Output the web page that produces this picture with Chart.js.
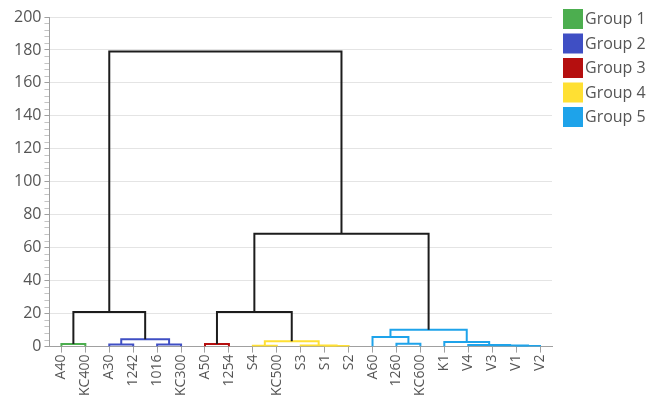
<!DOCTYPE html>
<html>
<head>
<meta charset="utf-8">
<script src="https://cdn.jsdelivr.net/npm/chart.js@4/dist/chart.umd.min.js"></script>
<style>
  html, body { margin: 0; padding: 0; background: #fff; }
  #wrap { width: 660px; height: 406px; }
</style>
</head>
<body>
<div id="wrap"><canvas id="c" width="660" height="406"></canvas></div>
<script>
// Leaf order along the x axis
const leaves = ['A40','KC400','A30','1242','1016','KC300','A50','1254','S4','KC500',
                'S3','S1','S2','A60','1260','KC600','K1','V4','V3','V1','V2'];

// Group names and colours (index -1 = link between groups, drawn in black)
const groupNames  = ['Group 1','Group 2','Group 3','Group 4','Group 5'];
const groupColors = ['#4cae4f','#3f4fc4','#b50f0f','#ffe033','#1ea3ea'];
const linkColor = '#1c1c1c';

// Linkage: node ids 0..20 are leaves, each row creates node 21, 22, ...
const mergeLeft   = [0, 2, 4, 22, 21, 6, 8, 11, 10, 27, 26, 14, 13, 19, 18, 17, 16, 33, 31, 25];
const mergeRight  = [1, 3, 5, 23, 24, 7, 9, 12, 28, 29, 30, 15, 32, 20, 34, 35, 36, 37, 38, 39];
const mergeHeight = [1.5, 1.2, 1.2, 4.5, 21, 1.5, 0.5, 0.3, 0.7, 3.2, 21, 1.7, 5.8, 0.3, 0.6, 1.0, 2.8, 10.2, 68.5, 179];
const mergeGroup  = [0, 1, 1, 1, -1, 2, 3, 3, 3, 3, -1, 4, 4, 4, 4, 4, 4, 4, -1, -1];

// Y axis ticks
const yMajorStep = 20;
const yMinorStep = 4;
const yMax = 200;

// Node positions: leaves sit at their index, merges at the mean of their children
const nodeX = leaves.map((_, i) => i);
const nodeY = leaves.map(() => 0);
const datasets = [];
mergeLeft.forEach((l, k) => {
  const r = mergeRight[k];
  const h = mergeHeight[k];
  nodeX.push((nodeX[l] + nodeX[r]) / 2);
  nodeY.push(h);
  const g = mergeGroup[k];
  datasets.push({
    data: [
      {x: nodeX[l], y: nodeY[l]},
      {x: nodeX[l], y: h},
      {x: nodeX[r], y: h},
      {x: nodeX[r], y: nodeY[r]}
    ],
    borderColor: g < 0 ? linkColor : groupColors[g],
    borderWidth: 2,
    showLine: true,
    fill: false,
    tension: 0,
    pointRadius: 0,
    pointHoverRadius: 0,
    order: g < 0 ? 0 : 1
  });
});

const axisGray = '#a0a0a0';
const textGray = '#555555';
const fontFamily = "'Open Sans', 'Noto Sans', sans-serif";

// Group legend in the right margin: colour swatch + name
const groupLegend = {
  id: 'groupLegend',
  afterDraw(chart) {
    const ctx = chart.ctx;
    ctx.save();
    ctx.font = `16px ${fontFamily}`;
    ctx.textBaseline = 'middle';
    ctx.textAlign = 'left';
    groupNames.forEach((name, i) => {
      const y = 9 + i * 24.5;
      ctx.fillStyle = groupColors[i];
      ctx.fillRect(563, y, 20, 20);
      ctx.fillStyle = textGray;
      ctx.fillText(name, 585, y + 10.5);
    });
    ctx.restore();
  }
};

new Chart(document.getElementById('c'), {
  type: 'scatter',
  data: { datasets },
  plugins: [groupLegend],
  options: {
    responsive: false,
    animation: false,
    layout: { padding: { top: 17, right: 108, bottom: 8, left: 11 } },
    plugins: {
      tooltip: { enabled: false },
      legend: { display: false }
    },
    scales: {
      x: {
        type: 'linear',
        min: -0.5,
        max: leaves.length - 0.5,
        afterBuildTicks: s => { s.ticks = leaves.map((_, i) => ({ value: i })); },
        ticks: {
          autoSkip: false,
          minRotation: 90,
          maxRotation: 90,
          padding: 2,
          color: textGray,
          font: { family: fontFamily, size: 14 },
          callback: v => leaves[v] ?? ''
        },
        grid: { drawOnChartArea: false, tickLength: 6, color: axisGray, tickColor: axisGray },
        border: { color: axisGray, width: 1 }
      },
      y: {
        min: 0,
        max: yMax,
        afterBuildTicks: s => {
          const t = [];
          for (let v = 0; v <= yMax; v += yMinorStep) t.push({ value: v });
          s.ticks = t;
        },
        ticks: {
          autoSkip: false,
          padding: 3,
          color: textGray,
          font: { family: fontFamily, size: 16 },
          callback: v => (v % yMajorStep === 0 ? String(v) : '')
        },
        grid: {
          tickLength: 5,
          color: ctx => (ctx.tick && ctx.tick.value % yMajorStep === 0 && ctx.tick.value > 0 ? '#e4e4e4' : 'rgba(0,0,0,0)'),
          tickColor: ctx => (ctx.tick && ctx.tick.value % yMajorStep === 0 ? axisGray : '#c4c4c4')
        },
        border: { color: axisGray, width: 1 }
      }
    }
  }
});
</script>
</body>
</html>
